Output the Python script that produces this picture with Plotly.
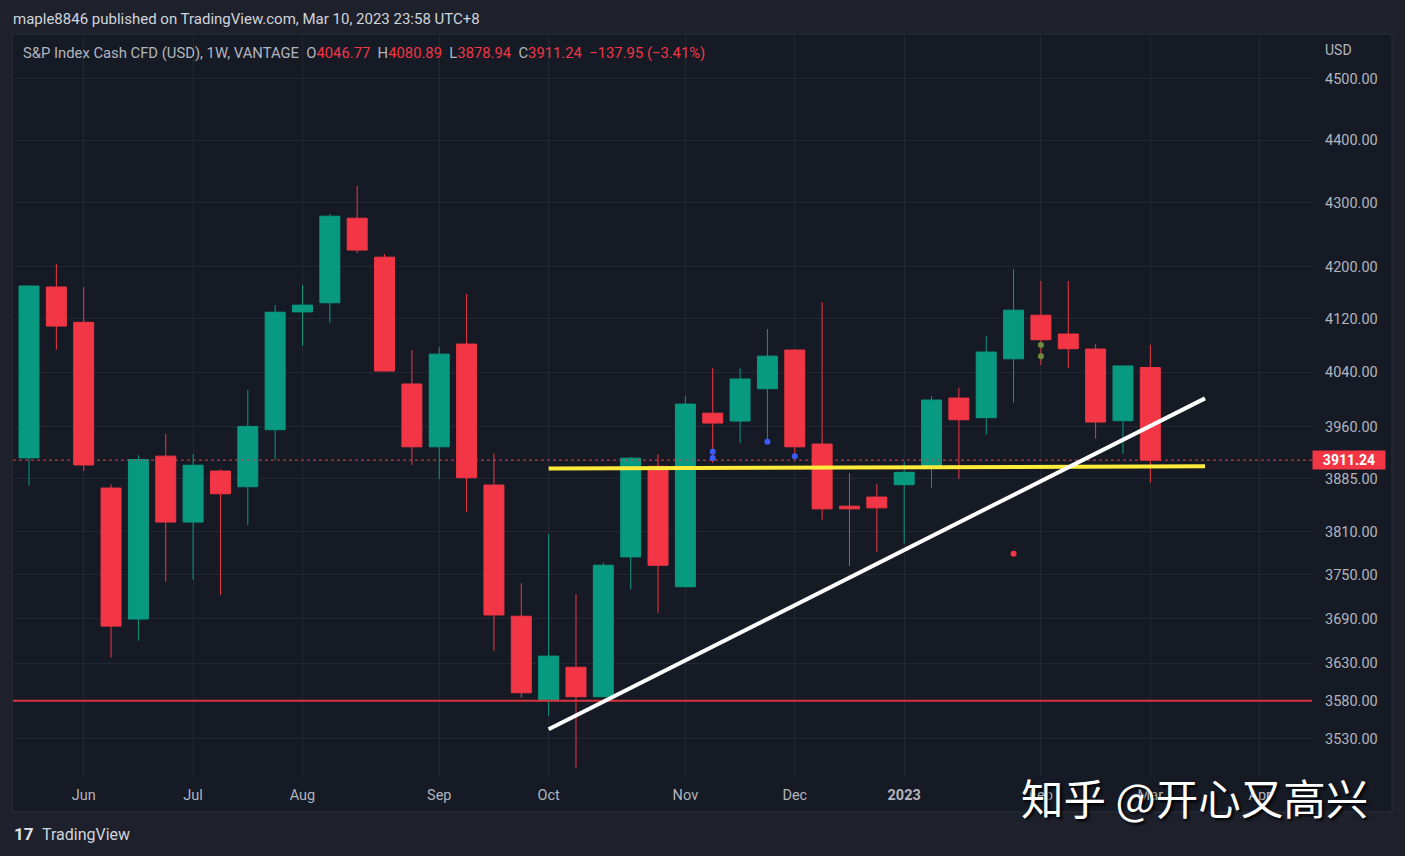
import math
import plotly.graph_objects as go

# ---------------- data (weekly S&P Index Cash CFD, VANTAGE) ----------------
dates = ["2022-05-23", "2022-05-30", "2022-06-06", "2022-06-13", "2022-06-20", "2022-06-27",
         "2022-07-04", "2022-07-11", "2022-07-18", "2022-07-25", "2022-08-01", "2022-08-08",
         "2022-08-15", "2022-08-22", "2022-08-29", "2022-09-05", "2022-09-12", "2022-09-19",
         "2022-09-26", "2022-10-03", "2022-10-10", "2022-10-17", "2022-10-24", "2022-10-31",
         "2022-11-07", "2022-11-14", "2022-11-21", "2022-11-28", "2022-12-05", "2022-12-12",
         "2022-12-19", "2022-12-26", "2023-01-02", "2023-01-09", "2023-01-16", "2023-01-23",
         "2023-01-30", "2023-02-06", "2023-02-13", "2023-02-20", "2023-02-27", "2023-03-06"]

open_ = [3914.5, 4168.5, 4114.7, 3871.3, 3689.2, 3917.0, 3823.2, 3895.6, 3873.2, 3955.3,
         4130.5, 4144.4, 4275.3, 4214.5, 4022.4, 3930.5, 4081.9, 3875.6, 3693.0, 3579.9,
         3624.3, 3585.2, 3774.5, 3902.4, 3733.3, 3979.4, 3967.9, 4015.4, 4072.9, 3934.5,
         3845.6, 3858.5, 3876.1, 3901.4, 4001.6, 3972.8, 4059.8, 4125.4, 4097.0, 4074.4,
         3968.4, 4046.77]
high = [4171.0, 4203.6, 4168.5, 3876.6, 3918.4, 3949.0, 3919.9, 3898.1, 4013.5, 4140.8,
        4171.6, 4281.6, 4326.3, 4219.2, 4072.9, 4077.4, 4157.7, 3920.9, 3738.0, 3806.4,
        3723.2, 3766.7, 3915.5, 3919.9, 4004.6, 4045.7, 4045.7, 4104.6, 4074.0, 4145.4,
        3892.7, 3877.1, 3909.2, 4004.6, 4016.9, 4094.0, 4195.7, 4177.7, 4177.7, 4081.9,
        4049.2, 4080.89]
low = [3874.6, 4073.3, 3895.6, 3637.4, 3659.9, 3740.2, 3742.9, 3722.3, 3818.9, 3911.6,
       4079.4, 4113.6, 4220.8, 4041.2, 3904.3, 3884.2, 3837.5, 3646.4, 3583.9, 3560.0,
       3493.0, 3584.8, 3729.7, 3697.6, 3732.9, 3907.2, 3935.9, 3937.8, 3919.9, 3826.6,
       3761.9, 3781.6, 3793.3, 3871.8, 3884.6, 3948.0, 3994.7, 4050.5, 4046.2, 3942.2,
       3920.3, 3878.94]
close = [4170.0, 4109.0, 3904.3, 3679.6, 3912.2, 3823.2, 3903.9, 3863.2, 3960.1, 4130.0,
         4140.8, 4278.5, 4225.5, 4041.6, 3930.5, 4066.8, 3886.1, 3694.7, 3590.5, 3639.2,
         3585.2, 3762.9, 3914.1, 3762.9, 3992.7, 3965.0, 4029.8, 4063.8, 3930.5, 3841.8,
         3841.8, 3843.2, 3893.7, 3998.7, 3969.8, 4069.9, 4133.1, 4088.4, 4074.9, 3966.5,
         4049.19, 3911.24]

# indicator dots
blue_dot_dates = ["2022-11-14", "2022-11-14", "2022-11-28", "2022-12-05"]
blue_dot_vals = [3923.2, 3914.5, 3937.8, 3916.8]
olive_dot_dates = ["2023-02-06", "2023-02-06"]
olive_dot_vals = [4080.4, 4063.8]
red_dot_dates = ["2023-01-30"]
red_dot_vals = [3778.7]

# drawings
support_level = 3580.0
yellow_line_dates = ["2022-10-03", "2023-03-20"]
yellow_line_vals = [3899.1, 3902.4]
white_line_dates = ["2022-10-03", "2023-03-20"]
white_line_vals = [3542.5, 4001.2]

# axes
x_range = ["2022-05-18 21:40", "2023-04-16 09:10"]
y_min, y_max = 3482.2, 4573.4
y_tick_vals = [4500, 4400, 4300, 4200, 4120, 4040, 3960, 3885, 3810, 3750, 3690, 3630, 3580, 3530]
y_tick_text = [f"{v:.2f}" for v in y_tick_vals]
x_tick_vals = ["2022-06-06", "2022-07-04", "2022-08-01", "2022-09-05", "2022-10-03",
               "2022-11-07", "2022-12-05", "2023-01-02", "2023-02-06", "2023-03-06", "2023-04-03"]
x_tick_text = ["Jun", "Jul", "Aug", "Sep", "Oct", "Nov", "Dec", "<b>2023</b>", "Feb", "Mar", "Apr"]

# ---------------- styling ----------------
UP = "#089981"
DOWN = "#f23645"
OUTER_BG = "#1e212b"
PANE_BG = "#161a25"
GRID = "#232733"
TXT = "#b2b5be"
FONT = "Roboto"

W, H = 1405, 856
L, R, T, B = 13, 93, 35, 80
pw, ph = W - L - R, H - T - B


def px(x):
    return (x - L) / pw


def py(y):
    return (H - B - y) / ph


fig = go.Figure()

fig.add_trace(go.Candlestick(
    x=dates, open=open_, high=high, low=low, close=close,
    increasing=dict(line=dict(color=UP, width=1), fillcolor=UP),
    decreasing=dict(line=dict(color=DOWN, width=1), fillcolor=DOWN),
    whiskerwidth=0, showlegend=False, hoverinfo="x+y",
))

# support level (red)
fig.add_trace(go.Scatter(x=x_range, y=[support_level, support_level], mode="lines",
                         line=dict(color="#d8333f", width=2), showlegend=False, hoverinfo="skip"))
# last price dotted line
fig.add_trace(go.Scatter(x=x_range, y=[close[-1], close[-1]], mode="lines",
                         line=dict(color=DOWN, width=1, dash="dot"), showlegend=False, hoverinfo="skip"))
# yellow horizontal drawing
fig.add_trace(go.Scatter(x=yellow_line_dates, y=yellow_line_vals, mode="lines",
                         line=dict(color="#ffeb3b", width=4), showlegend=False, hoverinfo="skip"))
# white trend line
fig.add_trace(go.Scatter(x=white_line_dates, y=white_line_vals, mode="lines",
                         line=dict(color="#ffffff", width=4), showlegend=False, hoverinfo="skip"))
# indicator dots
fig.add_trace(go.Scatter(x=blue_dot_dates, y=blue_dot_vals, mode="markers",
                         marker=dict(color="#3d5afe", size=6), showlegend=False, hoverinfo="skip"))
fig.add_trace(go.Scatter(x=olive_dot_dates, y=olive_dot_vals, mode="markers",
                         marker=dict(color="#6e8a3c", size=6), showlegend=False, hoverinfo="skip"))
fig.add_trace(go.Scatter(x=red_dot_dates, y=red_dot_vals, mode="markers",
                         marker=dict(color=DOWN, size=6), showlegend=False, hoverinfo="skip"))

# frame of the chart area
fig.add_shape(type="rect", xref="paper", yref="paper",
              x0=px(12), x1=px(1392), y0=py(812), y1=py(34),
              fillcolor=PANE_BG, line=dict(color="#2a2e39", width=1), layer="below")

# header texts
chg = close[-1] - close[-2]
pct = chg / close[-2] * 100


def red(v):
    return f'<span style="color:{DOWN}">{v}</span>'


sgn = "\u2212" if chg < 0 else "+"
legend_txt = ("S&amp;P Index Cash CFD (USD), 1W, VANTAGE\u00a0\u00a0"
              f"O{red(f'{open_[-1]:.2f}')}\u00a0\u00a0H{red(f'{high[-1]:.2f}')}\u00a0\u00a0"
              f"L{red(f'{low[-1]:.2f}')}\u00a0\u00a0C{red(f'{close[-1]:.2f}')}\u00a0\u00a0"
              + red(f"{sgn}{abs(chg):.2f} ({sgn}{abs(pct):.2f}%)"))

annotations = [
    dict(text="maple8846 published on TradingView.com, Mar 10, 2023 23:58 UTC+8",
         xref="paper", yref="paper", x=px(11), y=py(19), xanchor="left", yanchor="middle",
         showarrow=False, font=dict(family=FONT, size=15, color="#d1d4dc")),
    dict(text=legend_txt, xref="paper", yref="paper", x=px(21), y=py(53),
         xanchor="left", yanchor="middle", showarrow=False,
         font=dict(family=FONT, size=14.8, color=TXT)),
    dict(text="USD", xref="paper", yref="paper", x=px(1323), y=py(50),
         xanchor="left", yanchor="middle", showarrow=False,
         font=dict(family=FONT, size=14, color=TXT)),
    dict(text=f"<b>{close[-1]:.2f}</b>", xref="paper", yref="y", x=1.0, y=math.log10(close[-1]),
         xanchor="left", yanchor="middle", showarrow=False, bgcolor=DOWN, borderpad=1,
         width=70, align="center", font=dict(family=FONT, size=14, color="#ffffff")),
    dict(text="<b>17</b>", xref="paper", yref="paper", x=px(12), y=py(834),
         xanchor="left", yanchor="middle", showarrow=False,
         font=dict(family=FONT, size=17, color="#e0e3eb")),
    dict(text="TradingView", xref="paper", yref="paper", x=px(40), y=py(834),
         xanchor="left", yanchor="middle", showarrow=False,
         font=dict(family=FONT, size=16, color="#d1d4dc")),
    dict(text="知乎 @开心又高兴", xref="paper", yref="paper", x=px(1194), y=py(796),
         xanchor="center", yanchor="middle", showarrow=False,
         font=dict(family="Noto Sans CJK SC", size=42.5, color="#ffffff",
                   shadow="2px 2px 3px #000000")),
]

fig.update_layout(
    width=W, height=H,
    margin=dict(l=L, r=R, t=T, b=B),
    paper_bgcolor=OUTER_BG, plot_bgcolor=PANE_BG,
    font=dict(family=FONT, color=TXT),
    boxgap=0.27, boxgroupgap=0,
    annotations=annotations,
    showlegend=False,
    xaxis=dict(type="date", range=x_range, rangeslider=dict(visible=False),
               tickvals=x_tick_vals, ticktext=x_tick_text, showgrid=True, gridcolor=GRID,
               gridwidth=1, zeroline=False, showline=False, ticks="",
               tickfont=dict(family=FONT, size=14.5, color=TXT), ticklabelstandoff=8),
    yaxis=dict(type="log", range=[math.log10(y_min), math.log10(y_max)], side="right",
               tickvals=y_tick_vals, ticktext=y_tick_text, showgrid=True, gridcolor=GRID,
               gridwidth=1, zeroline=False, showline=False, ticks="",
               tickfont=dict(family=FONT, size=14.5, color=TXT), ticklabelstandoff=12),
)

fig.write_html("out.html")
